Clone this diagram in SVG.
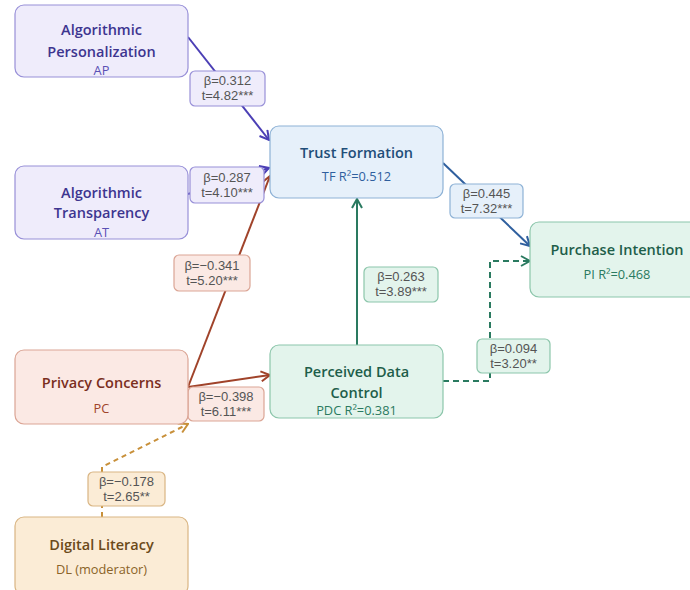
<svg xmlns="http://www.w3.org/2000/svg" width="690" height="590" viewBox="0 0 690 590">
<defs>
<style>
.t{font-family:"Open Sans","Noto Sans",sans-serif;font-weight:600;font-size:14.5px;text-anchor:middle}
.s{font-family:"Open Sans","Noto Sans",sans-serif;font-size:12.8px;text-anchor:middle}
.l{font-family:"Liberation Sans",Arial,sans-serif;font-size:13px;text-anchor:middle;fill:#555}
.e{fill:none;stroke-width:2}
.purple{fill:#efecfb;stroke:#9890d8;stroke-width:1.2}
.blue{fill:#e6f0fa;stroke:#8eb2d6;stroke-width:1.2}
.green{fill:#e3f4ec;stroke:#8cc6ab;stroke-width:1.2}
.red{fill:#fbe9e4;stroke:#dba595;stroke-width:1.2}
.orange{fill:#fbecd6;stroke:#d9b583;stroke-width:1.2}
</style>
<marker id="aP" viewBox="0 0 12 12" refX="11" refY="6" markerWidth="12" markerHeight="12" orient="auto" markerUnits="userSpaceOnUse"><path d="M2,1 L11,6 L2,11" fill="none" stroke="#4b3fb5" stroke-width="2"/></marker>
<marker id="aR" viewBox="0 0 12 12" refX="11" refY="6" markerWidth="12" markerHeight="12" orient="auto" markerUnits="userSpaceOnUse"><path d="M2,1 L11,6 L2,11" fill="none" stroke="#a0432a" stroke-width="2"/></marker>
<marker id="aB" viewBox="0 0 12 12" refX="11" refY="6" markerWidth="12" markerHeight="12" orient="auto" markerUnits="userSpaceOnUse"><path d="M2,1 L11,6 L2,11" fill="none" stroke="#2f5f9e" stroke-width="2"/></marker>
<marker id="aG" viewBox="0 0 12 12" refX="11" refY="6" markerWidth="12" markerHeight="12" orient="auto" markerUnits="userSpaceOnUse"><path d="M2,1 L11,6 L2,11" fill="none" stroke="#2a7a60" stroke-width="2"/></marker>
<marker id="aO" viewBox="0 0 12 12" refX="11" refY="6" markerWidth="12" markerHeight="12" orient="auto" markerUnits="userSpaceOnUse"><path d="M2,1 L11,6 L2,11" fill="none" stroke="#c8903a" stroke-width="2"/></marker>
</defs>

<g id="connectors">
<line class="e" x1="188" y1="37" x2="269" y2="140" stroke="#4b3fb5" marker-end="url(#aP)"/>
<line class="e" x1="188" y1="194" x2="269" y2="168" stroke="#4b3fb5" marker-end="url(#aP)"/>
<line class="e" x1="188" y1="387" x2="270" y2="176" stroke="#a0432a" marker-end="url(#aR)"/>
<line class="e" x1="188" y1="387" x2="270" y2="375" stroke="#a0432a" marker-end="url(#aR)"/>
<line class="e" x1="443" y1="163" x2="530" y2="246" stroke="#2f5f9e" marker-end="url(#aB)"/>
<line class="e" x1="357" y1="345" x2="357" y2="199" stroke="#2a7a60" marker-end="url(#aG)"/>
<polyline class="e" points="443,381 490,381 490,261 530,261" stroke="#2a7a60" stroke-dasharray="6,4" marker-end="url(#aG)"/>
<polyline class="e" points="102,517 102,467 188,424" stroke="#c8903a" stroke-dasharray="5,4" marker-end="url(#aO)"/>

<rect class="purple" x="190" y="71" width="75" height="35" rx="5"/>
<text class="l" x="227.5" y="85">β=0.312</text>
<text class="l" x="227.5" y="100">t=4.82***</text>

<rect class="purple" x="190" y="167" width="74" height="36" rx="5"/>
<text class="l" x="227" y="182">β=0.287</text>
<text class="l" x="227" y="197">t=4.10***</text>

<rect class="red" x="174" y="255" width="76" height="36" rx="5"/>
<text class="l" x="212" y="270">β=−0.341</text>
<text class="l" x="212" y="285">t=5.20***</text>

<rect class="red" x="188" y="387" width="76" height="34" rx="5"/>
<text class="l" x="226" y="401">β=−0.398</text>
<text class="l" x="226" y="416">t=6.11***</text>

<rect class="blue" x="450" y="184" width="73" height="34" rx="5"/>
<text class="l" x="486.5" y="198">β=0.445</text>
<text class="l" x="486.5" y="213">t=7.32***</text>

<rect class="green" x="364" y="267" width="74" height="35" rx="5"/>
<text class="l" x="401" y="281">β=0.263</text>
<text class="l" x="401" y="296">t=3.89***</text>

<rect class="green" x="477" y="339" width="73" height="34" rx="5"/>
<text class="l" x="513.5" y="353">β=0.094</text>
<text class="l" x="513.5" y="368">t=3.20**</text>

<rect class="orange" x="88" y="472" width="77" height="34" rx="5"/>
<text class="l" x="126.5" y="486">β=−0.178</text>
<text class="l" x="126.5" y="501">t=2.65**</text>
</g>

<g id="AP">
<rect class="purple" x="15" y="5" width="173" height="72" rx="9"/>
<text class="t" x="101.5" y="35" fill="#3d3590">Algorithmic</text>
<text class="t" x="101.5" y="57" fill="#3d3590">Personalization</text>
<text class="s" x="101.5" y="75" fill="#5a50b5">AP</text>
</g>
<g id="AT">
<rect class="purple" x="15" y="166" width="173" height="73" rx="9"/>
<text class="t" x="101.5" y="198" fill="#3d3590">Algorithmic</text>
<text class="t" x="101.5" y="218" fill="#3d3590">Transparency</text>
<text class="s" x="101.5" y="237" fill="#5a50b5">AT</text>
</g>
<g id="TF">
<rect class="blue" x="270" y="126" width="173" height="72" rx="9"/>
<text class="t" x="356.5" y="158" fill="#1f4e79">Trust Formation</text>
<text class="s" x="356.5" y="181" fill="#2f5f9e">TF R²=0.512</text>
</g>
<g id="PI">
<rect class="green" x="530" y="222" width="174" height="75" rx="9"/>
<text class="t" x="617" y="255" fill="#1e5e4a">Purchase Intention</text>
<text class="s" x="617" y="279" fill="#2a7a60">PI R²=0.468</text>
</g>
<g id="PC">
<rect class="red" x="15" y="350" width="173" height="74" rx="9"/>
<text class="t" x="101.5" y="388" fill="#7a2e1e">Privacy Concerns</text>
<text class="s" x="101.5" y="413" fill="#a0432a">PC</text>
</g>
<g id="PDC">
<rect class="green" x="270" y="345" width="173" height="73" rx="9"/>
<text class="t" x="356.5" y="377" fill="#1e5e4a">Perceived Data</text>
<text class="t" x="356.5" y="398" fill="#1e5e4a">Control</text>
<text class="s" x="356.5" y="415" fill="#2a7a60">PDC R²=0.381</text>
</g>
<g id="DL">
<rect class="orange" x="15" y="517" width="173" height="78" rx="9"/>
<text class="t" x="101.5" y="550" fill="#6b4a1a">Digital Literacy</text>
<text class="s" x="101.5" y="574" fill="#8a6328">DL (moderator)</text>
</g>
</svg>
